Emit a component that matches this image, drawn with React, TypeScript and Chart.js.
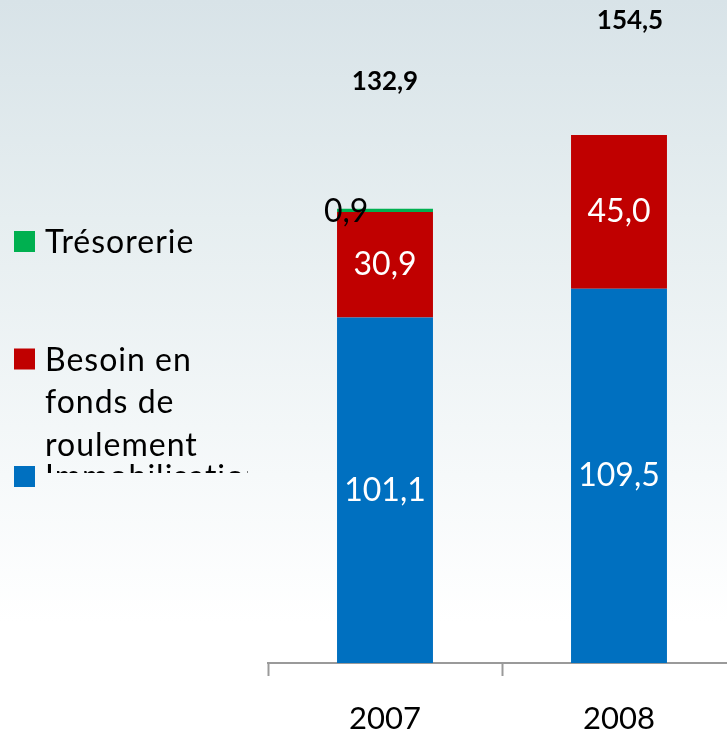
import React, { useEffect, useRef } from "react";
import { Chart, registerables } from "chart.js";

Chart.register(...registerables);

// ---- data ----
const categories = ["2007", "2008"];
const immobilisations = [101.1, 109.5];
const besoinFonds = [30.9, 45.0];
const tresorerie = [0.9, 0];
const seriesLabels = ["Immobilisations", "Besoin en fonds de roulement", "Trésorerie"];
const seriesColors = ["#0070C0", "#C00000", "#00B050"];

const CANVAS_W = 736;
const CANVAS_H = 732;
const FONT = "Lato";

const fmt = (v: number) => v.toFixed(1).replace(".", ",");

const backgroundPlugin = {
  id: "bgGradient",
  beforeDraw(chart: any) {
    const { ctx, width, height } = chart;
    ctx.save();
    const g = ctx.createLinearGradient(0, 0, 0, height);
    g.addColorStop(0, "#d8e3e8");
    g.addColorStop(0.3, "#e6eef0");
    g.addColorStop(0.65, "#f6f9fa");
    g.addColorStop(0.85, "#ffffff");
    g.addColorStop(1, "#ffffff");
    ctx.fillStyle = g;
    ctx.fillRect(0, 0, width, height);
    ctx.restore();
  },
};

const valueLabelPlugin = {
  id: "valueLabels",
  afterDatasetsDraw(chart: any) {
    const { ctx } = chart;
    ctx.save();
    chart.data.datasets.forEach((ds: any, di: number) => {
      const meta = chart.getDatasetMeta(di);
      meta.data.forEach((bar: any, i: number) => {
        const v = ds.data[i];
        if (!v) return;
        ctx.font = `32px ${FONT}`;
        ctx.textBaseline = "middle";
        if (di < 2) {
          ctx.fillStyle = "#ffffff";
          ctx.textAlign = "center";
          ctx.fillText(fmt(v), bar.x, (bar.y + bar.base) / 2);
        } else {
          ctx.fillStyle = "#000000";
          ctx.textAlign = "left";
          ctx.fillText(fmt(v), bar.x - bar.width / 2 - 13, bar.y + 3);
        }
      });
    });
    // totals
    const yScale = chart.scales.y;
    const meta0 = chart.getDatasetMeta(0);
    const dy = [127, 114];
    const dx = [0, 11];
    categories.forEach((_, i) => {
      const total = immobilisations[i] + besoinFonds[i] + tresorerie[i];
      const top = yScale.getPixelForValue(total);
      const bar = meta0.data[i];
      ctx.font = `bold 26px ${FONT}`;
      ctx.fillStyle = "#000000";
      ctx.textAlign = "center";
      ctx.textBaseline = "middle";
      ctx.fillText(fmt(total), bar.x + dx[i], top - dy[i]);
    });
    ctx.restore();
  },
};

function wrap(ctx: CanvasRenderingContext2D, text: string, maxW: number): string[] {
  const words = text.split(" ");
  const lines: string[] = [];
  let cur = "";
  for (const w of words) {
    const test = cur ? cur + " " + w : w;
    if (cur && ctx.measureText(test).width > maxW) {
      lines.push(cur);
      cur = w;
    } else cur = test;
  }
  if (cur) lines.push(cur);
  return lines;
}

const legendPlugin = {
  id: "sideLegend",
  afterDraw(chart: any) {
    const { ctx } = chart;
    ctx.save();
    const order = [2, 1, 0];
    const startY = 231;
    const gap = 117.5;
    const sq = 21;
    const lineH = 42.5;
    order.forEach((di, k) => {
      const ds = chart.data.datasets[di];
      const top = startY + k * gap;
      ctx.fillStyle = ds.backgroundColor;
      ctx.fillRect(14, top, sq, sq);
      ctx.save();
      ctx.beginPath();
      ctx.rect(0, 0, 248, 473);
      ctx.clip();
      ctx.font = `32px ${FONT}`;
      (ctx as any).letterSpacing = "1px";
      ctx.fillStyle = "#000000";
      ctx.textAlign = "left";
      ctx.textBaseline = "alphabetic";
      const lines = wrap(ctx, ds.label, 200);
      lines.forEach((ln, j) => {
        ctx.fillText(ln, 45, top + 22 + j * lineH);
      });
      ctx.restore();
    });
    ctx.restore();
  },
};

export default function App() {
  const ref = useRef<HTMLCanvasElement | null>(null);

  useEffect(() => {
    let chart: Chart | null = null;
    let cancelled = false;
    const make = () => {
      if (cancelled || !ref.current) return;
      chart = new Chart(ref.current, {
        type: "bar",
        data: {
          labels: categories,
          datasets: [
            { label: seriesLabels[0], data: immobilisations, backgroundColor: seriesColors[0] },
            { label: seriesLabels[1], data: besoinFonds, backgroundColor: seriesColors[1] },
            { label: seriesLabels[2], data: tresorerie, backgroundColor: seriesColors[2] },
          ],
        },
        options: {
          animation: false,
          responsive: false,
          devicePixelRatio: 1,
          layout: { padding: { left: 268, right: 0, top: 0, bottom: 0 } },
          plugins: {
            legend: { display: false },
            tooltip: { enabled: false },
            title: { display: false },
          },
          datasets: {
            bar: { categoryPercentage: 1, barPercentage: 0.41, borderWidth: 0 },
          },
          scales: {
            x: {
              stacked: true,
              offset: true,
              grid: {
                offset: true,
                drawOnChartArea: false,
                drawTicks: true,
                tickLength: 13,
                tickWidth: 2,
                tickColor: "#9a9a9a",
              },
              border: { display: true, color: "#9a9a9a", width: 2 },
              ticks: {
                color: "#000000",
                font: { family: FONT, size: 31 },
                padding: 24,
              },
              afterFit: (scale: any) => {
                scale.height = 69;
              },
            },
            y: {
              stacked: true,
              display: false,
              min: 0,
              max: 194,
            },
          },
        },
        plugins: [backgroundPlugin, valueLabelPlugin, legendPlugin],
      } as any);
    };
    const fonts: any = (document as any).fonts;
    if (fonts && fonts.load) {
      Promise.all([
        fonts.load(`32px ${FONT}`),
        fonts.load(`bold 26px ${FONT}`),
      ]).then(make, make);
    } else make();
    return () => {
      cancelled = true;
      if (chart) chart.destroy();
    };
  }, []);

  return (
    <div
      style={{
        position: "fixed",
        left: 0,
        top: 0,
        width: 727,
        height: 732,
        overflow: "hidden",
        background: "#ffffff",
      }}
    >
      <canvas
        ref={ref}
        width={CANVAS_W}
        height={CANVAS_H}
        style={{ width: CANVAS_W, height: CANVAS_H, display: "block" }}
      />
    </div>
  );
}
